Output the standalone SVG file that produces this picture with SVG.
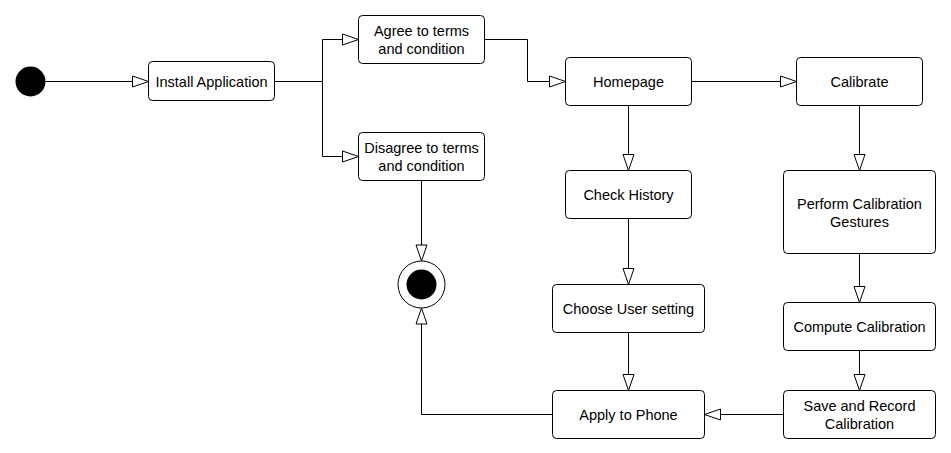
<svg xmlns="http://www.w3.org/2000/svg" width="951" height="453" viewBox="0 0 951 453">
<style>
.n rect{fill:#fff;stroke:#000;stroke-width:1}
.n text{font-family:"Liberation Sans",Arial,sans-serif;font-size:14.5px;fill:#000;text-anchor:middle}
.e path{fill:none;stroke:#000;stroke-width:1;marker-end:url(#arr)}
</style>
<defs>
<marker id="arr" markerWidth="18" markerHeight="14" refX="16" refY="6" orient="auto" markerUnits="userSpaceOnUse" overflow="visible">
<path d="M0,0.5 L16,6 L0,11.5 Z" fill="#fff" stroke="#000" stroke-width="1"/>
</marker>
</defs>
<rect width="951" height="453" fill="#fff"/>
<g class="e" id="connectors">
<path d="M45.5,81.5 H148.5"/>
<path d="M274.5,81.5 H322.5 V39.5 H358.5"/>
<path d="M322.5,81.5 V156.5 H358.5"/>
<path d="M484.5,39.5 H527.5 V81.5 H565.5"/>
<path d="M691.5,81.5 H796.5"/>
<path d="M628.5,105.5 V170.5"/>
<path d="M628.5,218.5 V284.5"/>
<path d="M628.5,332.5 V390.5"/>
<path d="M859.5,105.5 V170.5"/>
<path d="M859.5,253.5 V302.5"/>
<path d="M859.5,350.5 V390.5"/>
<path d="M783.5,414.5 H704.5"/>
<path d="M421.5,180.5 V261"/>
<path d="M552.5,414.5 H421.5 V308"/>
</g>
<g id="start"><circle cx="30.5" cy="81.5" r="15" fill="#000"/></g>
<g id="end"><circle cx="421.5" cy="284.5" r="23.5" fill="#fff" stroke="#000"/><circle cx="421.5" cy="284.5" r="15" fill="#000"/></g>
<g class="n" id="install"><rect x="148.5" y="61.5" width="126" height="39" rx="4"/><text x="211.5" y="86.5">Install Application</text></g>
<g class="n" id="agree"><rect x="358.5" y="15.5" width="126" height="48" rx="4"/><text x="421.5" y="35.5">Agree to terms</text><text x="421.5" y="53.5">and condition</text></g>
<g class="n" id="disagree"><rect x="358.5" y="132.5" width="126" height="48" rx="4"/><text x="421.5" y="152.5">Disagree to terms</text><text x="421.5" y="170.5">and condition</text></g>
<g class="n" id="homepage"><rect x="565.5" y="57.5" width="126" height="48" rx="4"/><text x="628.5" y="86.5">Homepage</text></g>
<g class="n" id="calibrate"><rect x="796.5" y="57.5" width="126" height="48" rx="4"/><text x="859.5" y="86.5">Calibrate</text></g>
<g class="n" id="history"><rect x="565.5" y="170.5" width="126" height="48" rx="4"/><text x="628.5" y="199.5">Check History</text></g>
<g class="n" id="perform"><rect x="783.5" y="170.5" width="152" height="83" rx="4"/><text x="859.5" y="208.5">Perform Calibration</text><text x="859.5" y="226.5">Gestures</text></g>
<g class="n" id="choose"><rect x="552.5" y="284.5" width="152" height="48" rx="4"/><text x="628.5" y="313.5">Choose User setting</text></g>
<g class="n" id="compute"><rect x="783.5" y="302.5" width="152" height="48" rx="4"/><text x="859.5" y="331.5">Compute Calibration</text></g>
<g class="n" id="apply"><rect x="552.5" y="390.5" width="152" height="48" rx="4"/><text x="628.5" y="419.5">Apply to Phone</text></g>
<g class="n" id="save"><rect x="783.5" y="390.5" width="152" height="48" rx="4"/><text x="859.5" y="410.5">Save and Record</text><text x="859.5" y="428.5">Calibration</text></g>
</svg>
